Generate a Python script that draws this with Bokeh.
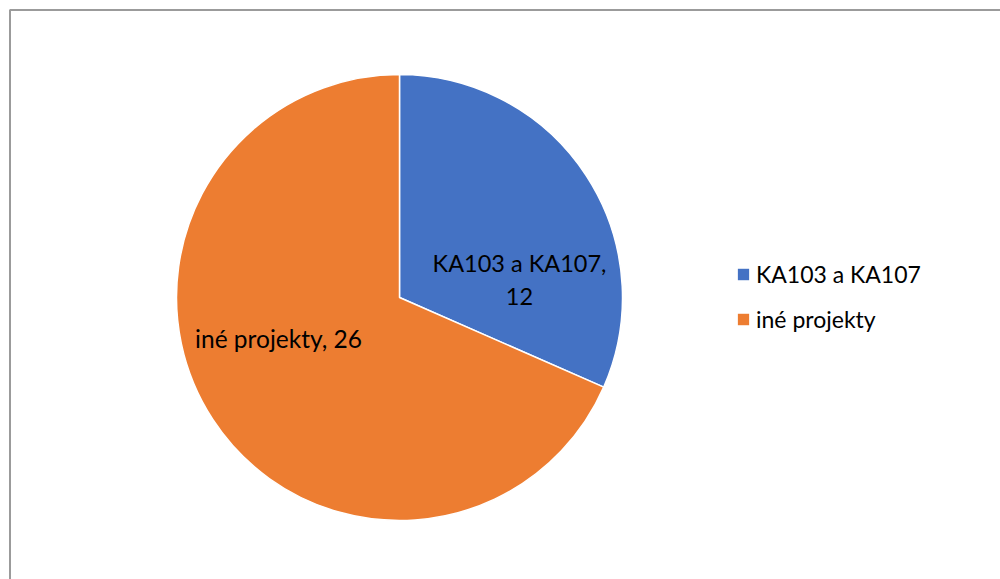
import math
from bokeh.plotting import figure
from bokeh.models import Range1d, ColumnDataSource, Legend, LegendItem
from bokeh.core.properties import value
from bokeh.embed import file_html
from bokeh.resources import INLINE

categories = ["KA103 a KA107", "iné projekty"]
counts = [12, 26]
colors = ["#4472C4", "#ED7D31"]

W, H = 1000, 579
CX, CY, R = 399, H - 297, 223

total = sum(counts)
starts, ends = [], []
acc = 0
for c in counts:
    a0 = math.pi / 2 - 2 * math.pi * acc / total
    acc += c
    a1 = math.pi / 2 - 2 * math.pi * acc / total
    starts.append(a0)
    ends.append(a1)

src = ColumnDataSource(dict(cat=categories, val=counts, color=colors,
                            start=starts, end=ends))

p = figure(width=W, height=H, output_backend="svg", toolbar_location=None,
           x_range=Range1d(0, W), y_range=Range1d(0, H), min_border=0,
           outline_line_color=None, background_fill_color="white")
p.axis.visible = False
p.grid.visible = False

# chart frame
p.line([9.5, 9.5, W + 5], [-5, H - 9.5, H - 9.5], line_color="#9b9b9b", line_width=2)

r = p.wedge(x=CX, y=CY, radius=R, start_angle="start", end_angle="end",
            direction="clock", fill_color="color", line_color="white",
            line_width=1.5, source=src)

# data labels
lab_off = [(120, 18), (-121, -41)]
font = value("Lato")
lines0 = [f"{categories[0]},", f"{counts[0]}"]
p.text(x=[CX + lab_off[0][0]] * 2, y=[CY + lab_off[0][1] + 17, CY + lab_off[0][1] - 17],
       text=lines0, text_font=font, text_font_size="23.5px", text_color="#000000",
       text_align="center", text_baseline="middle")
p.text(x=[CX + lab_off[1][0]], y=[CY + lab_off[1][1]],
       text=[f"{categories[1]}, {counts[1]}"], text_font=font, text_font_size="24.5px",
       text_color="#000000", text_align="center", text_baseline="middle")

legend = Legend(items=[LegendItem(label=categories[i], renderers=[r], index=i) for i in range(2)],
                location=(735, H - 333), glyph_width=16, glyph_height=16,
                label_text_font="Lato", label_text_font_size="23px",
                label_text_color="#000000", spacing=17, padding=0, margin=0,
                label_standoff=5, border_line_color=None, background_fill_alpha=0)
p.add_layout(legend)

open("out.html", "w").write(file_html(p, INLINE))
